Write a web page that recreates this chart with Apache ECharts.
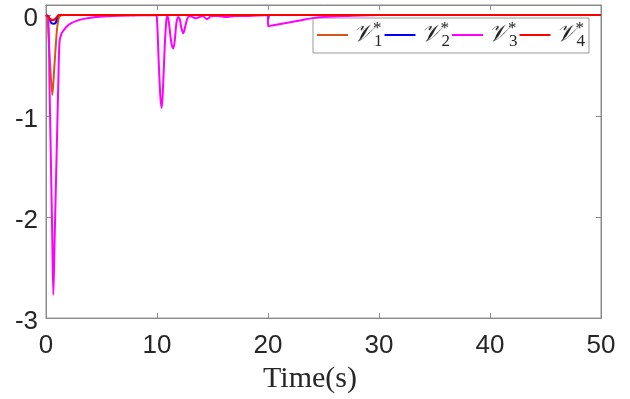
<!DOCTYPE html>
<html>
<head>
<meta charset="utf-8">
<script src="https://cdn.jsdelivr.net/npm/echarts@6/dist/echarts.min.js"></script>
<style>html,body{margin:0;padding:0;background:#fff}#c{width:630px;height:399px}</style>
</head>
<body>
<div id="c"></div>
<script>
// ---- data ----
const seriesNames = ['V1', 'V2', 'V3', 'V4'];
const xTicks = [0, 10, 20, 30, 40, 50];
const yTicks = [-3, -2, -1, 0];

const t1 = [0, 0.12, 0.25, 0.4, 0.57, 0.7, 0.85, 1.0, 1.15, 1.3, 1.6, 50];
const v1 = [0, -0.02, -0.25, -0.55, -0.79, -0.6, -0.35, -0.13, -0.03, -0.005, 0, 0];

const t2 = [0, 0.2, 0.35, 0.5, 0.7, 0.85, 0.95, 1.05, 1.2, 19.97, 20.02, 20.12, 50];
const v2 = [0, -0.01, -0.05, -0.08, -0.085, -0.08, -0.05, -0.01, 0, 0, -0.04, 0, 0];

const t3 = [0, 0.2, 0.32, 0.45, 0.56, 0.66, 0.76, 0.88, 1.0, 1.12, 1.22, 1.4, 1.6, 1.85, 2.2, 2.8, 3.5, 4.5, 6, 8,
  9.9, 10.0, 10.15, 10.3, 10.42, 10.55, 10.7, 10.85, 10.95, 11.1, 11.3, 11.47, 11.6, 11.75, 11.9, 12.05, 12.2, 12.37,
  12.55, 12.75, 12.95, 13.2, 13.5, 13.8, 14.1, 14.5, 14.9, 15.5, 16.2, 17, 18, 19.97, 20.02, 20.5, 21, 22, 23, 24, 25, 27, 30, 50];
const v3 = [0, -0.02, -0.72, -1.5, -2.17, -2.77, -2.3, -1.74, -1.18, -0.62, -0.26, -0.18, -0.15, -0.115, -0.085, -0.055, -0.035, -0.018, -0.008, -0.003,
  0, -0.04, -0.45, -0.8, -0.92, -0.7, -0.3, -0.04, -0.01, -0.1, -0.28, -0.33, -0.25, -0.08, -0.02, -0.04, -0.13, -0.18,
  -0.11, -0.03, -0.01, -0.02, -0.03, -0.02, -0.01, -0.04, -0.01, -0.01, -0.02, -0.01, -0.01, 0, -0.11, -0.1, -0.09, -0.07, -0.05, -0.03, -0.02, -0.01, 0, 0];

const t4 = [0, 0.2, 0.4, 0.6, 0.8, 1.0, 1.2, 50];
const v4 = [0, -0.015, -0.04, -0.05, -0.04, -0.015, 0, 0];

const colors = ['#D95319', '#0000FF', '#FF00FF', '#FF0000'];
const subs = ['1', '2', '3', '4'];

function pairs(t, v) { return t.map((x, i) => [x, v[i]]); }
const allData = [pairs(t1, v1), pairs(t2, v2), pairs(t3, v3), pairs(t4, v4)];

const axisGray = '#8a8a8a';
const chart = echarts.init(document.getElementById('c'), null, { renderer: 'canvas' });

const option = {
  animation: false,
  backgroundColor: '#fff',
  grid: { left: 46, right: 29, top: 5, bottom: 79, show: true, borderColor: axisGray, borderWidth: 1 },
  xAxis: [{
    type: 'value', min: 0, max: 50, interval: 10,
    axisLine: { show: true, onZero: false, lineStyle: { color: axisGray, width: 1 } },
    axisTick: { inside: true, length: 5, lineStyle: { color: axisGray } },
    splitLine: { show: false },
    axisLabel: { fontFamily: 'Liberation Sans, Arial, sans-serif', fontSize: 26, color: '#262626', margin: 15 },
    name: 'Time(s)', nameLocation: 'middle', nameGap: 44,
    nameTextStyle: { fontFamily: 'Liberation Serif, serif', fontSize: 30, color: '#262626', padding: [0, 27, 0, 0] }
  }, {
    type: 'value', min: 0, max: 50, interval: 10, position: 'top',
    axisLine: { show: true, onZero: false, lineStyle: { color: axisGray } },
    axisTick: { inside: true, length: 5, lineStyle: { color: axisGray } },
    axisLabel: { show: false }, splitLine: { show: false }
  }],
  yAxis: [{
    type: 'value', min: -3, max: 0.1, interval: 1,
    axisLine: { show: true, onZero: false, lineStyle: { color: axisGray, width: 1 } },
    axisTick: { inside: true, length: 5, lineStyle: { color: axisGray } },
    splitLine: { show: false },
    axisLabel: {
      fontFamily: 'Liberation Sans, Arial, sans-serif', fontSize: 26, color: '#262626', margin: 8,
      lineHeight: 8, verticalAlign: 'top',
      formatter: v => (yTicks.indexOf(v) >= 0 ? String(v) : '')
    }
  }, {
    type: 'value', min: -3, max: 0.1, interval: 1, position: 'right',
    axisLine: { show: true, onZero: false, lineStyle: { color: axisGray } },
    axisTick: { inside: true, length: 5, lineStyle: { color: axisGray } },
    axisLabel: { show: false }, splitLine: { show: false }
  }],
  legend: {
    left: 313, top: 18,
    orient: 'horizontal',
    data: seriesNames,
    icon: 'rect', itemWidth: 31, itemHeight: 2, itemGap: 2,
    borderColor: '#9a9a9a', borderWidth: 1, backgroundColor: '#fff',
    padding: [2, 4, 3, 4],
    formatter: name => {
      const i = seriesNames.indexOf(name);
      return '{v|𝒱}{sup|*}{sub|' + subs[i] + '}';
    },
    textStyle: {
      color: '#262626',
      rich: {
        v: { fontFamily: 'DejaVu Serif, serif', fontStyle: 'italic', fontSize: 24, lineHeight: 30, color: '#262626' },
        sup: { fontFamily: 'Liberation Serif, serif', fontSize: 17, lineHeight: 15, verticalAlign: 'top', width: 1, color: '#262626' },
        sub: { fontFamily: 'Liberation Serif, serif', fontSize: 17, lineHeight: 15, verticalAlign: 'bottom', color: '#262626' }
      }
    }
  },
  series: seriesNames.map((n, i) => ({
    name: n, type: 'line', data: allData[i], symbol: 'none', smooth: 0.3,
    lineStyle: { color: colors[i], width: 2 }, itemStyle: { color: colors[i] },
    xAxisIndex: 0, yAxisIndex: 0, z: 2 + i
  }))
};
chart.setOption(option);
</script>
</body>
</html>
